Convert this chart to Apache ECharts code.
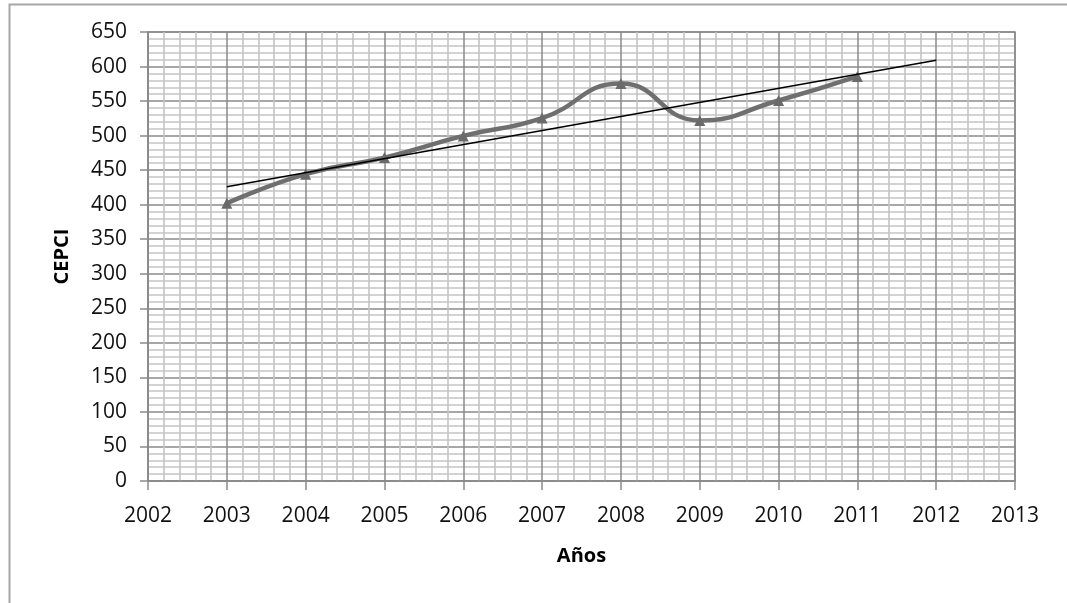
<!DOCTYPE html>
<html>
<head>
<meta charset="utf-8">
<script src="https://cdn.jsdelivr.net/npm/echarts@6/dist/echarts.min.js"></script>
<style>html,body{margin:0;padding:0;background:#fff;}#c{width:1067px;height:603px;}</style>
</head>
<body>
<div id="c"></div>
<script>
const years = [2003, 2004, 2005, 2006, 2007, 2008, 2009, 2010, 2011];
const cepci = [402.0, 444.2, 468.2, 499.6, 525.4, 575.4, 521.9, 550.8, 585.7];
const trendYears = [2003, 2012];
const trendValues = [426, 609];
const xTitle = 'Años';
const yTitle = 'CEPCI';

const chart = echarts.init(document.getElementById('c'), null, {renderer: 'canvas'});
const labelFont = {fontFamily: 'Open Sans', fontSize: 21, color: '#111'};
chart.setOption({
  animation: false,
  backgroundColor: '#fff',
  graphic: [{
    type: 'rect', silent: true, z: -1,
    shape: {x: 9.5, y: 4.5, width: 1200, height: 800},
    style: {fill: 'none', stroke: '#a8a8a8', lineWidth: 2}
  }],
  grid: {left: 148, top: 32, right: 52, bottom: 122, show: true, borderColor: '#8a8a8a', borderWidth: 1.5},
  xAxis: {
    type: 'value', min: 2002, max: 2013, interval: 1,
    name: xTitle, nameLocation: 'middle', nameGap: 65,
    nameTextStyle: {fontFamily: 'Open Sans', fontSize: 20, fontWeight: 'bold', color: '#000'},
    axisLine: {show: true, lineStyle: {color: '#8a8a8a', width: 1.5}},
    axisTick: {show: true, length: 9, lineStyle: {color: '#8a8a8a', width: 1.5}},
    axisLabel: Object.assign({margin: 25, formatter: v => String(v)}, labelFont),
    splitLine: {show: true, lineStyle: {color: '#8a8a8a', width: 1.5}},
    minorTick: {show: false, splitNumber: 5},
    minorSplitLine: {show: true, lineStyle: {color: '#c4c4c4', width: 1.6}}
  },
  yAxis: {
    type: 'value', min: 0, max: 650, interval: 50,
    name: yTitle, nameLocation: 'middle', nameGap: 76, nameRotate: 90,
    nameTextStyle: {fontFamily: 'Open Sans', fontSize: 20, fontWeight: 'bold', color: '#000'},
    axisLine: {show: true, lineStyle: {color: '#8a8a8a', width: 1.5}},
    axisTick: {show: true, length: 8, lineStyle: {color: '#8a8a8a', width: 1.5}},
    axisLabel: Object.assign({margin: 21}, labelFont),
    splitLine: {show: true, lineStyle: {color: '#8a8a8a', width: 1.5}},
    minorTick: {show: false, splitNumber: 5},
    minorSplitLine: {show: true, lineStyle: {color: '#c4c4c4', width: 1.6}}
  },
  series: [{
    type: 'line',
    data: years.map((y, i) => [y, cepci[i]]),
    smooth: 0.5,
    symbol: 'triangle', symbolSize: 11,
    lineStyle: {color: '#6f6f6f', width: 4.5},
    itemStyle: {color: '#6a6a6a'},
    z: 3
  }, {
    type: 'line',
    data: trendYears.map((y, i) => [y, trendValues[i]]),
    symbol: 'none',
    lineStyle: {color: '#000', width: 1.5},
    z: 4
  }]
});
</script>
</body>
</html>
